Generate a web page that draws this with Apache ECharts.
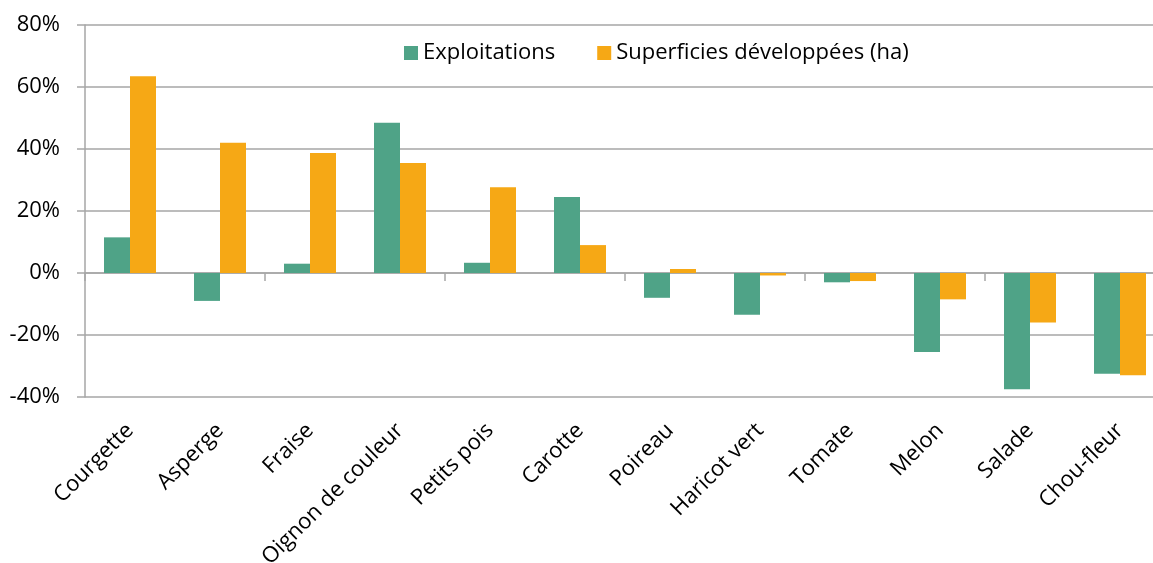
<!DOCTYPE html>
<html>
<head>
<meta charset="utf-8">
<script src="https://cdn.jsdelivr.net/npm/echarts@6/dist/echarts.min.js"></script>
<style>
  html, body { margin: 0; padding: 0; background: #fff; }
  #chart { width: 1153px; height: 563px; }
</style>
</head>
<body>
<div id="chart"></div>
<script>
// categories and values (% change)
var categories = ['Courgette', 'Asperge', 'Fraise', 'Oignon de couleur', 'Petits pois', 'Carotte',
  'Poireau', 'Haricot vert', 'Tomate', 'Melon', 'Salade', 'Chou-fleur']
var exploitations = [11.5, -9, 3, 48.5, 3.3, 24.5, -8, -13.5, -3, -25.5, -37.5, -32.5]
var superficies = [63.5, 42, 38.7, 35.5, 27.7, 9, 1.3, -0.8, -2.6, -8.5, -16, -33]
var seriesNames = ['Exploitations', 'Superficies développées (ha)']

var font = 'Open Sans'
var gridColor = '#a6a6a6'

var chart = echarts.init(document.getElementById('chart'))
chart.setOption({
  animation: false,
  color: ['#4fa387', '#f6a815'],
  textStyle: { fontFamily: font },
  legend: {
    data: seriesNames,
    left: 399,
    top: 37,
    icon: 'rect',
    itemWidth: 14,
    itemHeight: 14,
    itemGap: 42,
    textStyle: { fontFamily: font, fontSize: 22, color: '#000' }
  },
  // plot runs past the right edge of the picture, as in the original
  grid: {
    left: 85,
    width: 1080,
    top: 25,
    bottom: 166,
    outerBoundsMode: 'none'
  },
  xAxis: [
    {
      type: 'category',
      data: categories,
      axisLine: { show: false, onZero: false },
      axisTick: { show: false },
      axisLabel: {
        rotate: 45,
        interval: 0,
        margin: 30,
        fontFamily: font,
        fontSize: 22,
        color: '#000'
      }
    },
    {
      type: 'category',
      data: categories,
      position: 'bottom',
      axisLine: { onZero: true, lineStyle: { color: gridColor, width: 1.5 } },
      axisTick: { show: true, length: 8, lineStyle: { color: gridColor, width: 1.5 } },
      axisLabel: { show: false }
    }
  ],
  yAxis: {
    type: 'value',
    min: -40,
    max: 80,
    interval: 20,
    axisLine: { show: true, lineStyle: { color: gridColor, width: 1.5 } },
    axisTick: { show: true, length: 8, lineStyle: { color: gridColor, width: 1.5 } },
    splitLine: { lineStyle: { color: gridColor, width: 1.5 } },
    axisLabel: {
      margin: 25,
      fontFamily: font,
      fontSize: 22,
      color: '#000',
      formatter: '{value}%'
    }
  },
  series: [
    {
      name: seriesNames[0],
      type: 'bar',
      data: exploitations,
      barWidth: 26,
      barGap: '0%'
    },
    {
      name: seriesNames[1],
      type: 'bar',
      data: superficies,
      barWidth: 26,
      barGap: '0%'
    }
  ]
})
</script>
</body>
</html>
